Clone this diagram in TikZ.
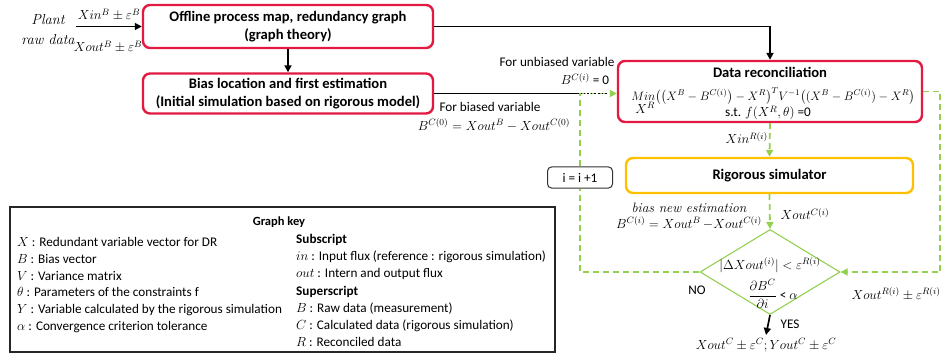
\RequirePackage{fix-cm}
\documentclass[tikz,border=0pt]{standalone}
\usepackage{amsmath}
\usepackage{fontspec}
\setmainfont{Carlito}
\newfontfamily\serifit{Latin Modern Roman}
\usetikzlibrary{positioning,shapes.geometric,arrows.meta}
\definecolor{redbox}{RGB}{226,25,65}
\definecolor{orangebox}{RGB}{255,192,0}
\definecolor{greenline}{RGB}{146,208,80}

\begin{document}
\begin{tikzpicture}[x=1pt,y=-1pt
		,every node/.append style={font=\fontsize{13.2}{16.8}\selectfont}
		,rbox/.style={draw=redbox, line width=2.4pt, rounded corners=7pt, align=center, inner sep=1pt, font=\fontsize{14.6}{17.5}\selectfont\bfseries}
		,obox/.style={rbox, draw=orangebox}
		,arr/.style={-{Triangle[length=7pt,width=7pt]}, line width=1.7pt}
		,gline/.style={draw=greenline, line width=1.8pt, dash pattern=on 6pt off 4pt}
		,garr/.style={gline, -{Triangle[length=7pt,width=7pt]}}
		,lbl/.style={inner sep=1pt}
		,itl/.style={inner sep=1pt, font=\fontsize{14.5}{20}\selectfont\serifit\itshape}
	]
	\useasboundingbox (0,0) rectangle (941,358);

	% boxes
	\node [rbox, minimum width=290pt, minimum height=43pt] (map) at (288,26.5) {Offline process map, redundancy graph\\(graph theory)};
	\node [rbox, minimum width=290pt, minimum height=40pt] (bias) at (288,93.5) {Bias location and first estimation\\(Initial simulation based on rigorous model)};
	\node [rbox, minimum width=304pt, minimum height=61pt] (dr) at (770,91.5) {};
	\node [obox, minimum width=287pt, minimum height=35pt] (sim) at (769.5,175.5) {Rigorous simulator};
	\node [diamond, draw=greenline, line width=1.1pt, minimum width=140pt, minimum height=85pt, inner sep=0pt] (conv) at (770,272) {};

	% data reconciliation content
	\node [inner sep=1pt, font=\fontsize{14.6}{17}\selectfont\bfseries] (drt) at (770,72) {Data reconciliation};
	\node [lbl, font=\fontsize{12.2}{14}\selectfont] (drf) at (773,96) {$Min\bigl(\bigl(X^B-B^{C(i)}\bigr)-X^R\bigr)^{T}V^{-1}\bigl((X^B-B^{C(i)})-X^R\bigr)$};
	\node [lbl] (drx) at (645,108) {$X^R$};
	\node [lbl] (drs) at (768,113) {s.t. $f(X^R,\theta)$ =0};

	% plant input
	\node [itl, align=center] (plant) at (48,29.5) {Plant\\raw data};
	\draw [arr] (plant.east |- map.west) -- (map.west);
	\node [lbl] (xin) at (109,15) {$Xin^B\pm\varepsilon^B$};
	\node [lbl] (xout) at (108,47) {$Xout^B\pm\varepsilon^B$};

	\draw [arr] (map.south) -- (bias.north);
	\draw [arr] (map.east) -| (dr.north);

	% bias line and correction loop
	\node [draw=black!80, rounded corners=4pt, line width=1pt, fill=white, minimum width=65pt, minimum height=21pt] (inc) at (580,177.5) {i = i +1};
	\coordinate (jn) at (inc |- bias.east);
	\draw [line width=1.6pt] (bias.east) -- (jn);
	\draw [garr] (jn) -- (dr.west |- jn);
	\draw [line width=1.6pt, dotted] (jn) -- ([xshift=-9pt]dr.west |- jn);
	\draw [gline] (conv.west) -| (inc.south);
	\draw [gline] (inc.north) -- (jn);
	\node [lbl] (unb) at (557,62) {For unbiased variable};
	\node [lbl] (unbv) at (585,79) {$B^{C(i)}$ = 0};
	\node [lbl] (bsd) at (490,107) {For biased variable};
	\node [lbl] (bsdv) at (494,125) {$B^{C(0)}=Xout^B-Xout^{C(0)}$};

	% simulator loop
	\draw [garr] (dr.south) -- (sim.north);
	\node [lbl, anchor=east] (xinr) at (769,138) {$Xin^{R(i)}$};
	\draw [garr] (sim.south) -- (conv.north);
	\node [itl, font=\fontsize{13.6}{16}\selectfont\serifit\itshape] (bne) at (689,208) {bias new estimation};
	\node [lbl] (bnev) at (689,223) {$B^{C(i)}=Xout^B\,{-}Xout^{C(i)}$};
	\node [lbl] (xoutc) at (805,214) {$Xout^{C(i)}$};

	% reconciled values back to the test
	\coordinate (rt) at ([xshift=17pt]dr.east);
	\coordinate (rb) at (rt |- conv.east);
	\draw [garr] (dr.east) -- (rt) -- (rb) -- (conv.east);
	\node [lbl] (xoutr) at (896,294) {$Xout^{R(i)}\pm\varepsilon^{R(i)}$};

	% convergence test
	\node [lbl] (cnd1) at (770,265) {$|\Delta Xout^{(i)}|<\varepsilon^{R(i)}$};
	\node [lbl] (cnd2) at (773,294) {$\dfrac{\partial B^C}{\partial i}$ < $\alpha$};
	\node [lbl] (no) at (697,290) {NO};
	\node [lbl] (res) at (766,345) {$Xout^C\pm\varepsilon^C;Yout^C\pm\varepsilon^C$};
	\draw [arr] (conv.south) -- ([yshift=2pt]res.north);
	\node [lbl] (yes) at (790,324) {YES};

	% graph key
	\node [draw=black!85, line width=1.2pt, minimum width=545pt, minimum height=145pt] (key) at (282.5,279.5) {};
	\node [font=\fontsize{12.5}{15}\selectfont\bfseries] (keyt) at (279,222) {Graph key};
	\node [anchor=west, align=left, inner sep=0pt] (keyl) at (17,285) {%
		$X$ : Redundant variable vector for DR\\
		$B$ : Bias vector\\
		$V$ : Variance matrix\\
		$\theta$ : Parameters of the constraints f\\
		$Y$ : Variable calculated by the rigorous simulation\\
		$\alpha$ : Convergence criterion tolerance};
	\node [anchor=west, align=left, inner sep=0pt] (keyr) at (296,290.5) {%
		\textbf{Subscript}\\
		$in$ : Input flux (reference : rigorous simulation)\\
		$out$ : Intern and output flux\\[1.5pt]
		\textbf{Superscript}\\
		$B$ : Raw data (measurement)\\
		$C$ : Calculated data (rigorous simulation)\\
		$R$ : Reconciled data};
\end{tikzpicture}
\end{document}
